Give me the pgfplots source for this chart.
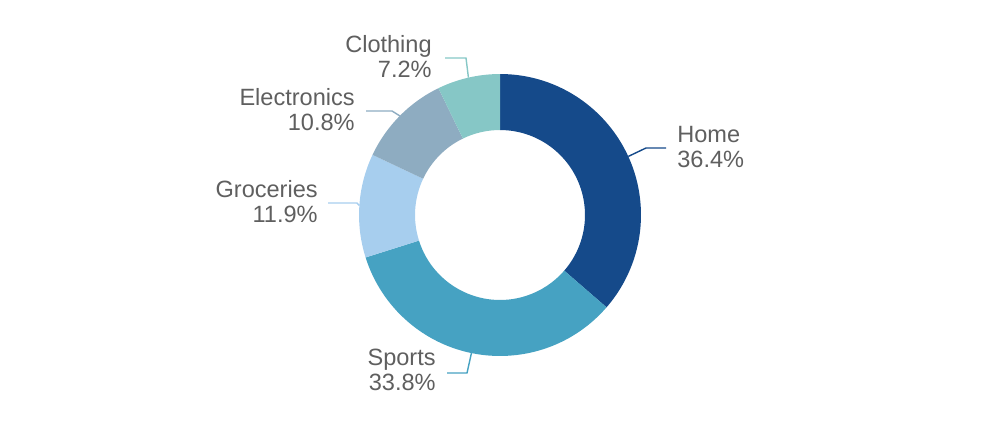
\documentclass[border=0pt]{standalone}
\usepackage{fontspec}
\setmainfont{Liberation Sans}
\usepackage{pgfplots}
\usepackage{pgfplotstable}
\pgfplotsset{compat=1.18}

\definecolor{cHome}{HTML}{154A8A}
\definecolor{cSports}{HTML}{46A2C2}
\definecolor{cGroceries}{HTML}{A7CEEE}
\definecolor{cElectronics}{HTML}{8EACC1}
\definecolor{cClothing}{HTML}{86C7C6}
\definecolor{labelgray}{HTML}{5F5F5F}

% share of each category, clockwise from 12 o'clock
\pgfplotstableread{
label value
Home 36.4
Sports 33.8
Groceries 11.9
Electronics 10.8
Clothing 7.2
}\shares

\def\Rout{2.82cm}
\def\Rin{1.7cm}

% one ring segment, angles taken from the table below
\newcommand\slice[1]{%
  \fill[color=c#1] (axis cs:500,215) ++(\csname a#1\endcsname:\Rout)
    arc[start angle=\csname a#1\endcsname, end angle=\csname b#1\endcsname, radius=\Rout]
    -- ++(\csname b#1\endcsname:-1.12cm)
    arc[start angle=\csname b#1\endcsname, end angle=\csname a#1\endcsname, radius=\Rin]
    -- cycle;}
\newcommand\leader[3]{%
  \draw[color=c#1, line width=0.8pt] (axis cs:500,215) ++(\csname m#1\endcsname:\Rout)
    -- (axis cs:#2) -- (axis cs:#3);}

\begin{document}
\begin{tikzpicture}
  \pgfmathsetmacro\total{0}
  \pgfplotsforeachungrouped \i in {0,...,4}{%
    \pgfplotstablegetelem{\i}{value}\of\shares
    \pgfmathsetmacro\total{\total+\pgfplotsretval}}
  \def\cum{0}
  \pgfplotsforeachungrouped \i in {0,...,4}{%
    \pgfplotstablegetelem{\i}{value}\of\shares
    \let\v\pgfplotsretval
    \pgfplotstablegetelem{\i}{label}\of\shares
    \let\lab\pgfplotsretval
    \pgfmathsetmacro\angA{90-360*(\cum/\total)}
    \pgfmathsetmacro\angM{90-360*((\cum+0.5*\v)/\total)}
    \pgfmathsetmacro\cum{\cum+\v}
    \pgfmathsetmacro\angB{90-360*(\cum/\total)}
    \expandafter\xdef\csname a\lab\endcsname{\angA}
    \expandafter\xdef\csname b\lab\endcsname{\angB}
    \expandafter\xdef\csname m\lab\endcsname{\angM}}
  \begin{axis}[
      x=0.02cm, y=0.02cm,
      xmin=0, xmax=1000, ymin=0, ymax=430,
      hide axis, clip=false,
    ]
    \slice{Home}
    \slice{Sports}
    \slice{Groceries}
    \slice{Electronics}
    \slice{Clothing}

    \leader{Home}{646,282}{666,282}
    \leader{Sports}{467,57}{447,57}
    \leader{Groceries}{357,227}{328,227}
    \leader{Electronics}{392,319}{366,319}
    \leader{Clothing}{466,372}{445,372}

    \tikzset{lbl/.style={inner sep=0pt, text=labelgray,
        font=\fontsize{13.4}{14.2}\selectfont}}
    \node[lbl, anchor=west, align=left]  at (axis cs:677,283) {Home\\36.4\%};
    \node[lbl, anchor=east, align=right] at (axis cs:436,60)  {Sports\\33.8\%};
    \node[lbl, anchor=east, align=right] at (axis cs:318,228) {Groceries\\11.9\%};
    \node[lbl, anchor=east, align=right] at (axis cs:355,320) {Electronics\\10.8\%};
    \node[lbl, anchor=east, align=right] at (axis cs:432,373) {Clothing\\7.2\%};

    \coordinate (sw) at (axis cs:0,0);
    \coordinate (ne) at (axis cs:1000,430);
  \end{axis}
  \pgfresetboundingbox
  \path (sw) rectangle (ne);
\end{tikzpicture}
\end{document}
